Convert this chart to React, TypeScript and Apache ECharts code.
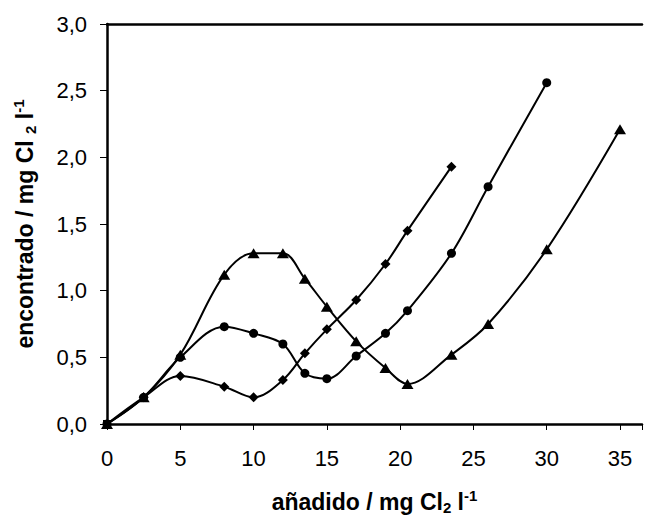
import React, { useEffect, useRef } from "react";
import * as echarts from "echarts";

const diamondX = [0, 2.5, 5, 8, 10, 12, 13.5, 15, 17, 19, 20.5, 23.5];
const diamondY = [0, 0.2, 0.36, 0.28, 0.2, 0.33, 0.53, 0.71, 0.93, 1.2, 1.45, 1.93];

const circleX = [0, 2.5, 5, 8, 10, 12, 13.5, 15, 17, 19, 20.5, 23.5, 26, 30];
const circleY = [0, 0.2, 0.5, 0.73, 0.68, 0.6, 0.38, 0.34, 0.51, 0.68, 0.85, 1.28, 1.78, 2.56];

const triangleX = [0, 2.5, 5, 8, 10, 12, 13.5, 15, 17, 19, 20.5, 23.5, 26, 30, 35];
const triangleY = [0, 0.2, 0.52, 1.12, 1.28, 1.28, 1.09, 0.88, 0.62, 0.42, 0.3, 0.52, 0.75, 1.31, 2.21];

const xTitle = "añadido / mg Cl";
const yTitle = "encontrado / mg Cl ";

const FONT = "'Liberation Sans', Arial, sans-serif";

function pairs(xs: number[], ys: number[], originRect: boolean) {
  return xs.map((x, i) =>
    originRect && x === 0 && ys[i] === 0
      ? { value: [x, ys[i]], symbol: "rect", symbolSize: 8 }
      : [x, ys[i]]
  );
}

export default function App() {
  const ref = useRef<HTMLDivElement>(null);
  useEffect(() => {
    if (!ref.current) return;
    const chart = echarts.init(ref.current, null, { renderer: "svg" });
    const rich = {
      b: { fontSize: 23, fontWeight: "bold", fontFamily: FONT, color: "#000", lineHeight: 27 },
      sub: { fontSize: 15, fontWeight: "bold", fontFamily: FONT, color: "#000", lineHeight: 15, verticalAlign: "bottom" },
      sup: { fontSize: 15, fontWeight: "bold", fontFamily: FONT, color: "#000", lineHeight: 15, verticalAlign: "top" },
    };
    const lineStyle = { color: "#000", width: 2 };
    const mkSeries = (name: string, xs: number[], ys: number[], symbol: string, size: any, originRect: boolean) => ({
      type: "line",
      name,
      xAxisIndex: 0,
      yAxisIndex: 0,
      data: pairs(xs, ys, originRect),
      smooth: 0.35,
      symbol,
      symbolSize: size,
      showSymbol: true,
      lineStyle,
      itemStyle: { color: "#000", borderColor: "#000", borderWidth: 0 },
      z: 3,
    });
    chart.setOption({
      animation: false,
      backgroundColor: "#fff",
      grid: { left: 107, top: 24, right: 0, bottom: 91, containLabel: false },
      xAxis: [
        {
          type: "value",
          min: 0,
          max: 36.5,
          interval: 5,
          position: "bottom",
          axisLine: { show: true, onZero: false, lineStyle: { color: "#000", width: 2.5 } },
          axisTick: { show: true, length: 6, lineStyle: { color: "#000", width: 1 } },
          axisLabel: {
            fontSize: 22,
            fontFamily: FONT,
            color: "#000",
            margin: 23,
            formatter: (v: number) => (Math.abs(v % 5) < 1e-9 ? String(v) : ""),
          },
          splitLine: { show: false },
          name: `{b|${xTitle}}{sub|2}{b| l}{sup|-1}`,
          nameLocation: "middle",
          nameGap: 64,
          nameTextStyle: { rich, fontSize: 23, fontWeight: "bold", fontFamily: FONT, color: "#000" },
        },
        {
          type: "value",
          min: 0,
          max: 36.5,
          position: "top",
          axisLine: { show: true, onZero: false, lineStyle: { color: "#000", width: 2.5 } },
          axisTick: { show: false },
          axisLabel: { show: false },
          splitLine: { show: false },
        },
      ],
      yAxis: [
        {
          type: "value",
          min: 0,
          max: 3,
          interval: 0.5,
          axisLine: { show: true, onZero: false, lineStyle: { color: "#000", width: 2.5 } },
          axisTick: { show: true, length: 7, lineStyle: { color: "#000", width: 1 } },
          axisLabel: {
            fontSize: 22,
            fontFamily: FONT,
            color: "#000",
            margin: 20,
            formatter: (v: number) => v.toFixed(1).replace(".", ","),
          },
          splitLine: { show: false },
          name: `{b|${yTitle}}{sub|2}{b| l}{sup|-1}`,
          nameLocation: "middle",
          nameGap: 69,
          nameRotate: 90,
          nameTextStyle: { rich, fontSize: 23, fontWeight: "bold", fontFamily: FONT, color: "#000" },
        },
      ],
      series: [
        mkSeries("triangle", triangleX, triangleY, "triangle", [12, 10], false),
        mkSeries("circle", circleX, circleY, "circle", 9, false),
        mkSeries("diamond", diamondX, diamondY, "diamond", 10, true),
      ],
    });
    return () => chart.dispose();
  }, []);
  return (
    <div
      ref={ref}
      style={{ position: "absolute", left: 0, top: 0, width: 645, height: 520, background: "#fff" }}
    />
  );
}
